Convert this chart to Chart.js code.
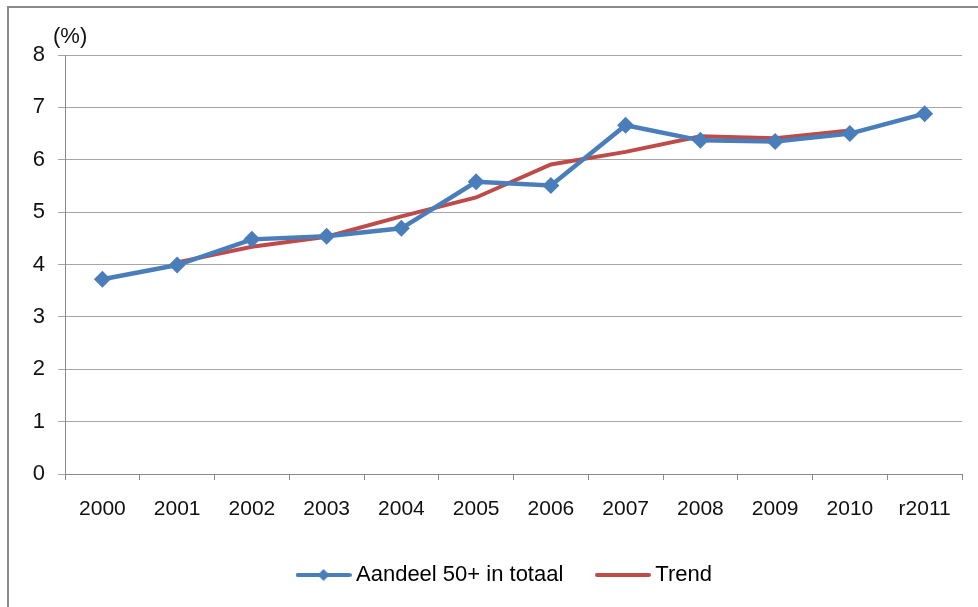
<!DOCTYPE html>
<html>
<head>
<meta charset="utf-8">
<script src="https://cdn.jsdelivr.net/npm/chart.js@4/dist/chart.umd.min.js"></script>
<style>
  html, body { margin: 0; padding: 0; background: #fff; }
  #wrap { width: 978px; height: 607px; }
</style>
</head>
<body>
<div id="wrap"><canvas id="chart" width="978" height="607"></canvas></div>
<script>
// Data
const years = ['2000', '2001', '2002', '2003', '2004', '2005', '2006', '2007', '2008', '2009', '2010', 'r2011'];
const aandeel = [3.72, 3.99, 4.48, 4.54, 4.69, 5.58, 5.51, 6.66, 6.37, 6.35, 6.50, 6.88];
const trend = [null, 4.04, 4.34, 4.53, 4.92, 5.28, 5.91, 6.15, 6.45, 6.41, 6.56, null];
const yTicks = [0, 1, 2, 3, 4, 5, 6, 7, 8];

const BLUE = '#4a7ebb';
const RED = '#be4b48';
const FONT = 'Liberation Sans';

// legend swatches: a line, with a diamond for the blue series
function swatch(color, diamond) {
  const c = document.createElement('canvas');
  c.width = 56; c.height = 14;
  const g = c.getContext('2d');
  g.strokeStyle = color;
  g.lineWidth = 4;
  g.lineCap = 'round';
  g.beginPath(); g.moveTo(2, 7); g.lineTo(54, 7); g.stroke();
  if (diamond) {
    g.fillStyle = color;
    g.beginPath();
    g.moveTo(28, 1); g.lineTo(34, 7); g.lineTo(28, 13); g.lineTo(22, 7);
    g.closePath(); g.fill();
  }
  return c;
}
const blueSwatch = swatch(BLUE, true);
const redSwatch = swatch(RED, false);

// outer frame + unit label, legend nudged right
const frame = {
  id: 'frame',
  afterLayout(chart) {
    chart.legend.left += 26;
    chart.legend.right += 26;
  },
  beforeDraw(chart) {
    const ctx = chart.ctx;
    ctx.save();
    ctx.fillStyle = '#fff';
    ctx.fillRect(0, 0, chart.width, chart.height);
    ctx.strokeStyle = '#8a8a8a';
    ctx.lineWidth = 2;
    ctx.beginPath();
    ctx.moveTo(8, chart.height + 2);
    ctx.lineTo(8, 7);
    ctx.lineTo(chart.width + 2, 7);
    ctx.stroke();
    ctx.restore();
  },
  afterDraw(chart) {
    const ctx = chart.ctx;
    ctx.save();
    ctx.fillStyle = '#111';
    ctx.font = '22px "' + FONT + '"';
    ctx.textBaseline = 'middle';
    ctx.fillText('(%)', 53, 37);
    ctx.restore();
  }
};

new Chart(document.getElementById('chart'), {
  type: 'line',
  data: {
    labels: years,
    datasets: [
      {
        label: 'Aandeel 50+ in totaal',
        data: aandeel,
        borderColor: BLUE,
        backgroundColor: BLUE,
        borderWidth: 4.5,
        pointStyle: 'rectRot',
        pointRadius: 8.5,
        pointBorderWidth: 0,
        tension: 0
      },
      {
        label: 'Trend',
        data: trend,
        borderColor: RED,
        backgroundColor: RED,
        borderWidth: 4,
        pointRadius: 0,
        tension: 0
      }
    ]
  },
  options: {
    responsive: false,
    animation: false,
    layout: { padding: { left: 0, right: 16, top: 55, bottom: 11 } },
    plugins: {
      tooltip: { enabled: false },
      legend: {
        position: 'bottom',
        labels: {
          color: '#111',
          font: { family: FONT, size: 22 },
          usePointStyle: true,
          pointStyleWidth: 43,
          padding: 38,
          generateLabels: () => [
            { text: 'Aandeel 50+ in totaal', pointStyle: blueSwatch, fillStyle: BLUE, strokeStyle: BLUE, lineWidth: 0, datasetIndex: 0 },
            { text: 'Trend', pointStyle: redSwatch, fillStyle: RED, strokeStyle: RED, lineWidth: 0, datasetIndex: 1 }
          ]
        }
      }
    },
    scales: {
      x: {
        offset: true,
        grid: { display: true, drawOnChartArea: false, drawTicks: true, tickLength: 6, offset: true, color: '#8a8a8a' },
        border: { color: '#8a8a8a', width: 1 },
        ticks: { color: '#111', font: { family: FONT, size: 21 }, padding: 17, maxRotation: 0, autoSkip: false },
        afterFit(scale) { scale.height = 52; }
      },
      y: {
        min: 0,
        max: 8,
        afterBuildTicks(scale) { scale.ticks = yTicks.map(v => ({ value: v })); },
        grid: { color: '#a6a6a6', tickLength: 7 },
        border: { color: '#8a8a8a', width: 1 },
        ticks: { color: '#111', font: { family: FONT, size: 22 }, padding: 13 },
        afterFit(scale) { scale.width = 65; }
      }
    }
  },
  plugins: [frame]
});
</script>
</body>
</html>
